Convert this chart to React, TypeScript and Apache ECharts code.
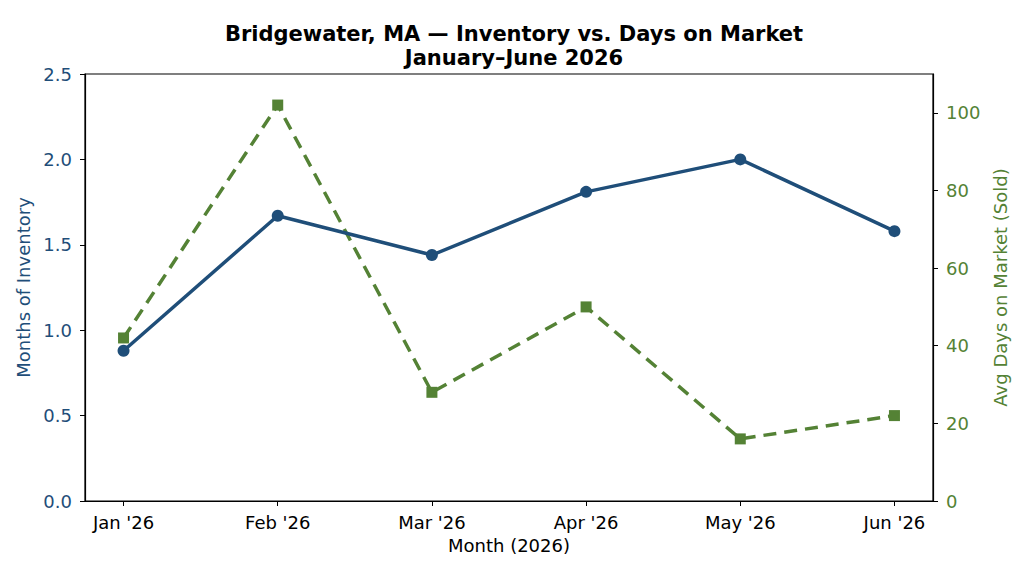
import React, { useEffect, useRef } from "react";
import * as echarts from "echarts";

const months = ["Jan '26", "Feb '26", "Mar '26", "Apr '26", "May '26", "Jun '26"];
const monthsOfInventory = [0.88, 1.67, 1.44, 1.81, 2.0, 1.58];
const avgDaysOnMarket = [42, 102, 28, 50, 16, 22];
const leftTicks = [0, 0.5, 1, 1.5, 2, 2.5];
const rightTicks = [0, 20, 40, 60, 80, 100];

const BLUE = "#1f4e79";
const GREEN = "#548235";
const FONT = "DejaVu Sans";
const TEXT_SIZE = 18;

export default function App() {
  const ref = useRef<HTMLDivElement>(null);

  useEffect(() => {
    if (!ref.current) return;
    const chart = echarts.init(ref.current, undefined, { renderer: "svg" });
    const idx = months.map((_, i) => i);

    chart.setOption({
      animation: false,
      backgroundColor: "#ffffff",
      title: {
        text: "Bridgewater, MA — Inventory vs. Days on Market\nJanuary–June 2026",
        left: 509,
        textAlign: "center",
        top: 17,
        textStyle: {
          fontFamily: FONT,
          fontWeight: "bold",
          fontSize: 21,
          lineHeight: 24,
          color: "#000",
        },
      },
      grid: {
        left: 85,
        right: 91,
        top: 74,
        bottom: 75,
        show: true,
        borderColor: "#000",
        borderWidth: 1.2,
        backgroundColor: "transparent",
      },
      xAxis: {
        type: "value",
        min: -0.25,
        max: 5.25,
        name: "Month (2026)",
        nameLocation: "middle",
        nameGap: 35,
        nameTextStyle: { fontFamily: FONT, fontSize: TEXT_SIZE, color: "#000" },
        splitLine: { show: false },
        axisLine: { show: true, onZero: false, lineStyle: { color: "#000", width: 1.2 } },
        axisTick: {
          show: true,
          length: 5,
          customValues: idx,
          lineStyle: { color: "#000" },
        },
        axisLabel: {
          customValues: idx,
          margin: 12,
          fontFamily: FONT,
          fontSize: TEXT_SIZE,
          color: "#000",
          formatter: (v: number) => months[Math.round(v)] ?? "",
        },
      },
      yAxis: [
        {
          type: "value",
          position: "left",
          min: 0,
          max: 2.5,
          interval: 0.5,
          name: "Months of Inventory",
          nameLocation: "middle",
          nameGap: 49,
          nameTextStyle: { fontFamily: FONT, fontSize: TEXT_SIZE, color: BLUE },
          splitLine: { show: false },
          axisLine: { show: true, onZero: false, lineStyle: { color: "#000", width: 1.2 } },
          axisTick: { show: true, length: 5, customValues: leftTicks, lineStyle: { color: "#000" } },
          axisLabel: {
            customValues: leftTicks,
            fontFamily: FONT,
            fontSize: TEXT_SIZE,
            color: BLUE,
            margin: 13,
            formatter: (v: number) => v.toFixed(1),
          },
        },
        {
          type: "value",
          position: "right",
          min: 0,
          max: 110,
          name: "Avg Days on Market (Sold)",
          nameLocation: "middle",
          nameGap: 51,
          nameRotate: 90,
          nameTextStyle: { fontFamily: FONT, fontSize: TEXT_SIZE, color: GREEN },
          splitLine: { show: false },
          axisLine: { show: true, onZero: false, lineStyle: { color: "#000", width: 1.2 } },
          axisTick: { show: true, length: 5, customValues: rightTicks, lineStyle: { color: "#000" } },
          axisLabel: {
            customValues: rightTicks,
            fontFamily: FONT,
            fontSize: TEXT_SIZE,
            color: GREEN,
            margin: 13,
          },
        },
      ],
      series: [
        {
          name: "Avg Days on Market (Sold)",
          type: "line",
          yAxisIndex: 1,
          data: avgDaysOnMarket.map((v, i) => [i, v]),
          symbol: "rect",
          symbolSize: 11,
          lineStyle: { color: GREEN, width: 3.5, type: [13, 8] },
          itemStyle: { color: GREEN },
          z: 2,
        },
        {
          name: "Months of Inventory",
          type: "line",
          yAxisIndex: 0,
          data: monthsOfInventory.map((v, i) => [i, v]),
          symbol: "circle",
          symbolSize: 12,
          lineStyle: { color: BLUE, width: 3.5 },
          itemStyle: { color: BLUE },
          z: 3,
        },
      ],
    });

    return () => chart.dispose();
  }, []);

  return <div ref={ref} style={{ width: 1024, height: 576, margin: -8 }} />;
}
